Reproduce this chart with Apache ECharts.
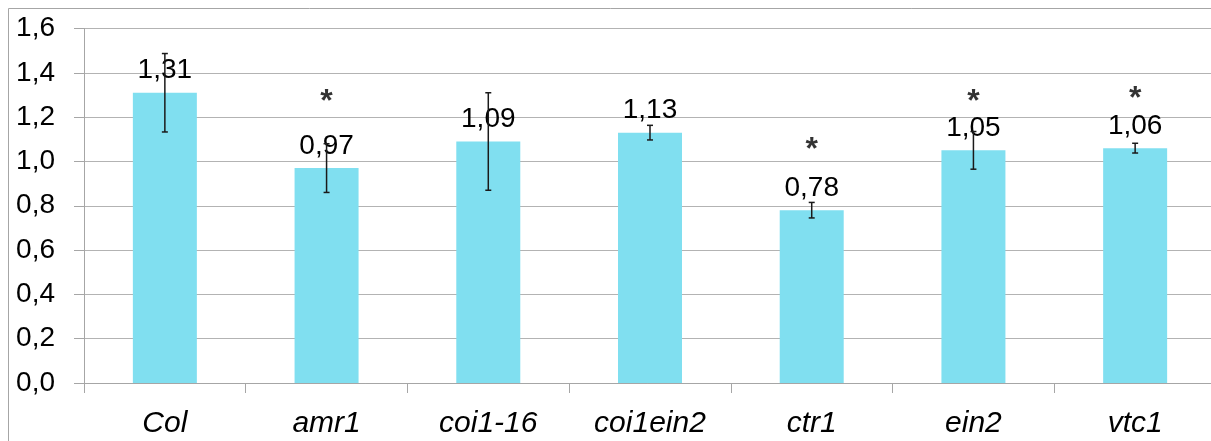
<!DOCTYPE html>
<html>
<head>
<meta charset="utf-8">
<script src="https://cdn.jsdelivr.net/npm/echarts@6/dist/echarts.min.js"></script>
<style>
  html, body { margin: 0; padding: 0; background: #fff; }
  #chart { width: 1211px; height: 441px; }
</style>
</head>
<body>
<div id="chart"></div>
<script>
// Genotypes on the x axis
const categories = ['Col', 'amr1', 'coi1-16', 'coi1ein2', 'ctr1', 'ein2', 'vtc1'];
// Mean values shown by the bars
const means = [1.31, 0.97, 1.09, 1.13, 0.78, 1.05, 1.06];
// Half-length of each error bar
const errors = [0.177, 0.11, 0.22, 0.033, 0.035, 0.085, 0.022];
// Height (in axis units) of the significance asterisk, null where none
const starLevels = [null, 1.268, null, null, 1.052, 1.268, 1.282];
// Y axis tick values
const yTicks = [0, 0.2, 0.4, 0.6, 0.8, 1.0, 1.2, 1.4, 1.6];

const FONT = 'Liberation Sans, Arial, sans-serif';
const comma = v => v.toFixed(2).replace('.', ',');

const chart = echarts.init(document.getElementById('chart'));

chart.setOption({
  animation: false,
  backgroundColor: '#ffffff',
  graphic: [{
    type: 'rect',
    shape: { x: 8.5, y: 8.5, width: 1400, height: 600 },
    style: { fill: 'none', stroke: '#a6a6a6', lineWidth: 1 },
    silent: true,
    z: -1
  }],
  grid: {
    left: 84, top: 28.5, width: 1132, height: 354.5,
    containLabel: false,
    outerBoundsMode: 'none'
  },
  xAxis: {
    type: 'category',
    data: categories,
    axisLine: { show: true, lineStyle: { color: '#a6a6a6', width: 1 } },
    axisTick: { show: true, length: 10, lineStyle: { color: '#a6a6a6' } },
    axisLabel: {
      margin: 26,
      fontFamily: FONT,
      fontSize: 30,
      fontStyle: 'italic',
      color: '#000'
    },
    splitLine: { show: false }
  },
  yAxis: {
    type: 'value',
    min: yTicks[0],
    max: yTicks[yTicks.length - 1],
    interval: 0.2,
    axisLine: { show: true, lineStyle: { color: '#a6a6a6', width: 1 } },
    axisTick: { show: true, length: 10, lineStyle: { color: '#a6a6a6' } },
    axisLabel: {
      margin: 29,
      fontFamily: FONT,
      fontSize: 28,
      color: '#000',
      formatter: v => v.toFixed(1).replace('.', ',')
    },
    splitLine: { show: true, lineStyle: { color: '#b3b3b3', width: 1 } }
  },
  series: [
    {
      type: 'bar',
      data: means,
      barWidth: 64,
      itemStyle: { color: '#80dff0' },
      label: {
        show: true,
        position: 'top',
        distance: 8,
        fontFamily: FONT,
        fontSize: 28,
        color: '#000',
        formatter: p => comma(p.value)
      },
      z: 2
    },
    {
      type: 'custom',
      data: means.map((m, i) => [i, m - errors[i], m + errors[i]]),
      z: 5,
      renderItem: (params, api) => {
        const x = api.value(0);
        const lo = api.coord([x, api.value(1)]);
        const hi = api.coord([x, api.value(2)]);
        const cap = 3;
        const style = { stroke: '#1a1a1a', lineWidth: 1.5 };
        return {
          type: 'group',
          children: [
            { type: 'line', shape: { x1: hi[0], y1: hi[1], x2: lo[0], y2: lo[1] }, style },
            { type: 'line', shape: { x1: hi[0] - cap, y1: hi[1], x2: hi[0] + cap, y2: hi[1] }, style },
            { type: 'line', shape: { x1: lo[0] - cap, y1: lo[1], x2: lo[0] + cap, y2: lo[1] }, style }
          ]
        };
      }
    },
    {
      type: 'scatter',
      data: starLevels.map((v, i) => (v == null ? null : [i, v])).filter(d => d),
      symbolSize: 1,
      itemStyle: { color: 'rgba(0,0,0,0)' },
      label: {
        show: true,
        position: 'inside',
        formatter: '*',
        fontFamily: FONT,
        fontSize: 32,
        fontWeight: 'bold',
        color: '#000'
      },
      z: 6
    }
  ]
});
</script>
</body>
</html>
